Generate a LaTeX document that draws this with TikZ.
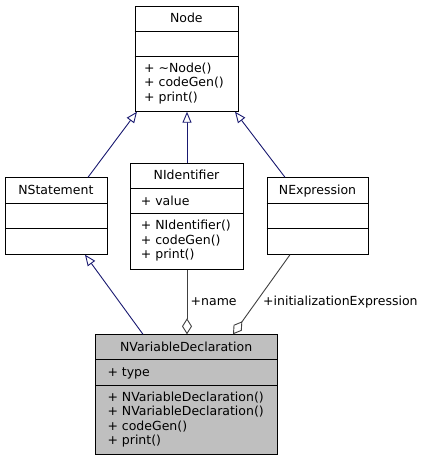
\documentclass[tikz,border=0pt]{standalone}
\usepackage{fontspec}
\setmainfont{DejaVu Sans}
\usetikzlibrary{arrows.meta}
\definecolor{navy}{HTML}{191970}
\definecolor{aggr}{HTML}{404040}
\definecolor{hilite}{HTML}{BFBFBF}
\tikzset{
  cls/.style={draw=black, line width=1pt, anchor=north west, inner sep=0pt, fill=white},
  txt/.style={font=\fontsize{12.5}{14.5}\selectfont, inner sep=0pt, anchor=base west},
  ttl/.style={font=\fontsize{12.5}{14.5}\selectfont, inner sep=0pt, anchor=base},
  divider/.style={draw=black, line width=1pt},
  inherit/.style={draw=navy, line width=0.9pt, {Triangle[length=11pt,width=9pt,fill=white]}-},
  aggregate/.style={draw=aggr, line width=0.9pt, {Diamond[length=16pt,width=10pt,fill=white]}-},
}
\begin{document}
\begin{tikzpicture}[x=1pt,y=-1pt]
\useasboundingbox (0,0) rectangle (424,461);
% Node
\node[cls, minimum width=103.3pt, minimum height=105pt] (node) at (134.7,5.7) {};
\draw[divider] (node.west |- 0,31) -- (node.east |- 0,31);
\draw[divider] (node.west |- 0,56.7) -- (node.east |- 0,56.7);
\node[ttl] (nodeT) at (186.35,22.5) {Node};
\node[txt] (nodeM1) at (144,72) {+ \textasciitilde Node()};
\node[txt] (nodeM2) at (144,86.5) {+ codeGen()};
\node[txt] (nodeM3) at (144,101) {+ print()};
% NStatement
\node[cls, minimum width=101.7pt, minimum height=76.4pt] (nst) at (5,177.3) {};
\draw[divider] (nst.west |- 0,203.3) -- (nst.east |- 0,203.3);
\draw[divider] (nst.west |- 0,228.7) -- (nst.east |- 0,228.7);
\node[ttl] (nstT) at (55.85,194.5) {NStatement};
% NIdentifier
\node[cls, minimum width=112.4pt, minimum height=106pt] (nid) at (130.3,162.7) {};
\draw[divider] (nid.west |- 0,188.7) -- (nid.east |- 0,188.7);
\draw[divider] (nid.west |- 0,213.7) -- (nid.east |- 0,213.7);
\node[ttl] (nidT) at (186.5,179) {NIdentifier};
\node[txt] (nidA1) at (140.7,205) {+ value};
\node[txt] (nidM1) at (140.7,229.5) {+ NIdentifier()};
\node[txt] (nidM2) at (140.7,244) {+ codeGen()};
\node[txt] (nidM3) at (140.7,258.5) {+ print()};
% NExpression
\node[cls, minimum width=101.6pt, minimum height=76.4pt] (nex) at (266.7,177.3) {};
\draw[divider] (nex.west |- 0,203.3) -- (nex.east |- 0,203.3);
\draw[divider] (nex.west |- 0,228.7) -- (nex.east |- 0,228.7);
\node[ttl] (nexT) at (317.5,194.5) {NExpression};
% NVariableDeclaration
\node[cls, fill=hilite, minimum width=182.3pt, minimum height=120pt] (nvd) at (95,334.3) {};
\draw[divider] (nvd.west |- 0,359.3) -- (nvd.east |- 0,359.3);
\draw[divider] (nvd.west |- 0,385.3) -- (nvd.east |- 0,385.3);
\node[ttl] (nvdT) at (186.15,351) {NVariableDeclaration};
\node[txt] (nvdA1) at (107.3,376) {+ type};
\node[txt] (nvdM1) at (107.3,401) {+ NVariableDeclaration()};
\node[txt] (nvdM2) at (107.3,415.5) {+ NVariableDeclaration()};
\node[txt] (nvdM3) at (107.3,430) {+ codeGen()};
\node[txt] (nvdM4) at (107.3,444.5) {+ print()};
% inheritance
\draw[inherit] ([xshift=2.3pt]node.south west) -- ([xshift=83pt]nst.north west);
\draw[inherit] (node.south -| nid.north) -- (nid.north);
\draw[inherit] ([xshift=100.3pt]node.south west) -- ([xshift=18.3pt]nex.north west);
\draw[inherit] ([xshift=80pt]nst.south west) -- ([xshift=48pt]nvd.north west);
% aggregation
\draw[aggregate] (nvd.north -| nid.south) -- (nid.south);
\draw[aggregate] ([xshift=138pt]nvd.north west) -- ([xshift=23.3pt]nex.south west);
\node[txt] (lblName) at (190.5,305) {+name};
\node[txt] (lblInit) at (263,305) {+initializationExpression};
\end{tikzpicture}
\end{document}
